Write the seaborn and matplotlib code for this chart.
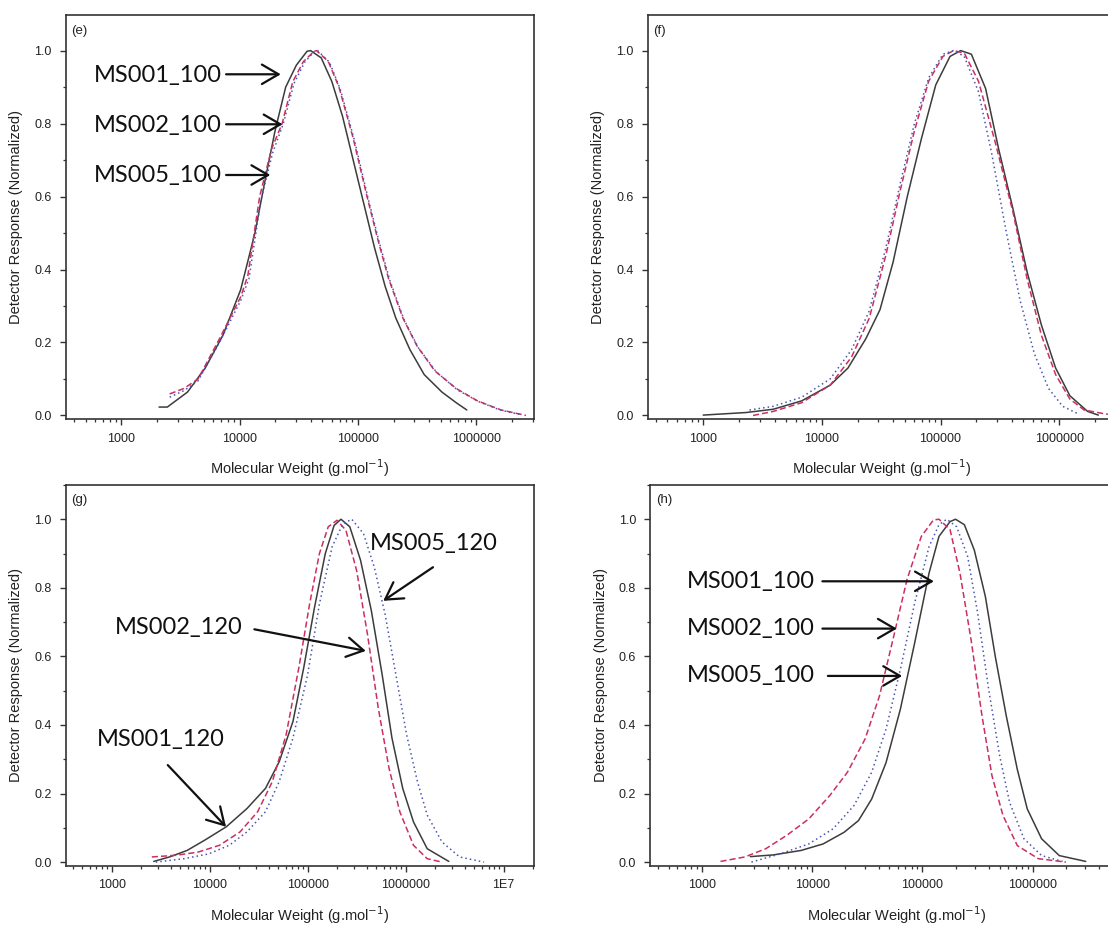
import numpy as np
import pandas as pd
import seaborn as sns
import matplotlib.pyplot as plt
from matplotlib.ticker import LogLocator, MultipleLocator, NullFormatter

#%% data (log10 of molecular weight, normalised response)
samples = ["MS001", "MS002", "MS005"]

e_logm = {
    "MS001": [3.32, 3.39, 3.56, 3.71, 3.86, 4.01, 4.13, 4.21, 4.30, 4.39, 4.48, 4.57, 4.60,
              4.69, 4.78, 4.87, 4.96, 5.05, 5.14, 5.23, 5.32, 5.44, 5.56, 5.71, 5.83, 5.92],
    "MS002": [3.41, 3.53, 3.65, 3.83, 4.01, 4.07, 4.17, 4.27, 4.36, 4.45, 4.54, 4.63, 4.65,
              4.75, 4.84, 4.96, 5.08, 5.17, 5.26, 5.38, 5.50, 5.65, 5.83, 6.01, 6.21, 6.42],
    "MS005": [3.41, 3.53, 3.65, 3.83, 4.01, 4.08, 4.18, 4.28, 4.37, 4.46, 4.55, 4.63, 4.66,
              4.76, 4.85, 4.97, 5.09, 5.18, 5.27, 5.39, 5.51, 5.66, 5.84, 6.02, 6.20, 6.38],
}
e_resp = {
    "MS001": [0.023, 0.023, 0.064, 0.13, 0.22, 0.345, 0.50, 0.635, 0.78, 0.90, 0.96, 0.998, 1.0,
              0.98, 0.915, 0.82, 0.70, 0.58, 0.46, 0.354, 0.267, 0.18, 0.112, 0.064, 0.035, 0.015],
    "MS002": [0.059, 0.074, 0.10, 0.21, 0.325, 0.383, 0.60, 0.73, 0.80, 0.915, 0.97, 0.998, 1.0,
              0.97, 0.90, 0.76, 0.596, 0.48, 0.374, 0.267, 0.19, 0.122, 0.074, 0.04, 0.015, 0.0],
    "MS005": [0.05, 0.068, 0.095, 0.20, 0.315, 0.375, 0.59, 0.72, 0.80, 0.91, 0.968, 0.997, 1.0,
              0.968, 0.895, 0.755, 0.59, 0.475, 0.37, 0.262, 0.186, 0.12, 0.07, 0.038, 0.015, 0.002],
}

f_logm = {
    "MS001": [3.0, 3.36, 3.59, 3.83, 4.07, 4.22, 4.37, 4.49, 4.60, 4.72, 4.84, 4.96, 5.08, 5.17,
              5.26, 5.38, 5.49, 5.61, 5.73, 5.85, 5.97, 6.09, 6.24, 6.33],
    "MS002": [3.42, 3.59, 3.83, 4.07, 4.25, 4.40, 4.54, 4.66, 4.78, 4.90, 5.02, 5.11, 5.20,
              5.32, 5.46, 5.61, 5.73, 5.85, 5.97, 6.09, 6.21, 6.39, 6.55],
    "MS005": [3.39, 3.59, 3.83, 4.07, 4.25, 4.40, 4.54, 4.66, 4.78, 4.90, 5.02, 5.11, 5.20,
              5.32, 5.43, 5.55, 5.67, 5.79, 5.91, 6.03, 6.15],
}
f_resp = {
    "MS001": [0.001, 0.008, 0.017, 0.04, 0.083, 0.13, 0.21, 0.29, 0.42, 0.60, 0.76, 0.906, 0.984, 1.0,
              0.99, 0.896, 0.73, 0.567, 0.393, 0.248, 0.13, 0.054, 0.011, 0.001],
    "MS002": [0.0, 0.011, 0.035, 0.083, 0.16, 0.267, 0.44, 0.616, 0.78, 0.916, 0.984, 1.0, 0.993,
              0.916, 0.75, 0.558, 0.374, 0.22, 0.112, 0.045, 0.015, 0.004, 0.0],
    "MS005": [0.015, 0.025, 0.05, 0.10, 0.18, 0.287, 0.46, 0.635, 0.80, 0.925, 0.99, 1.0, 0.984,
              0.887, 0.72, 0.51, 0.316, 0.17, 0.074, 0.025, 0.006],
}

g_logm = {
    "MS001": [3.43, 3.59, 3.77, 3.95, 4.17, 4.38, 4.57, 4.71, 4.85, 4.96, 5.07, 5.18, 5.27, 5.34,
              5.43, 5.54, 5.65, 5.76, 5.86, 5.97, 6.08, 6.22, 6.44],
    "MS002": [3.41, 3.66, 3.88, 4.10, 4.31, 4.49, 4.64, 4.78, 4.91, 5.02, 5.12, 5.21, 5.30,
              5.39, 5.50, 5.61, 5.72, 5.83, 5.94, 6.08, 6.22, 6.37],
    "MS005": [3.45, 3.74, 3.99, 4.20, 4.38, 4.57, 4.71, 4.85, 5.0, 5.12, 5.25, 5.36, 5.45,
              5.57, 5.68, 5.79, 5.90, 6.01, 6.12, 6.22, 6.37, 6.55, 6.80],
}
g_resp = {
    "MS001": [0.002, 0.015, 0.034, 0.064, 0.103, 0.156, 0.215, 0.293, 0.41, 0.567, 0.743, 0.90, 0.982, 1.0,
              0.978, 0.88, 0.733, 0.547, 0.362, 0.215, 0.117, 0.039, 0.002],
    "MS002": [0.015, 0.02, 0.029, 0.049, 0.088, 0.147, 0.235, 0.371, 0.567, 0.753, 0.90, 0.978, 0.997,
              0.968, 0.85, 0.665, 0.45, 0.274, 0.147, 0.049, 0.01, 0.0],
    "MS005": [0.0, 0.01, 0.024, 0.049, 0.088, 0.147, 0.235, 0.362, 0.547, 0.753, 0.92, 0.987, 1.0,
              0.958, 0.86, 0.723, 0.547, 0.371, 0.235, 0.137, 0.059, 0.015, 0.0],
}

h_logm = {
    "MS001": [3.44, 3.65, 3.90, 4.10, 4.29, 4.42, 4.54, 4.67, 4.80, 4.93, 5.06, 5.15, 5.25, 5.30,
              5.38, 5.47, 5.57, 5.66, 5.76, 5.86, 5.95, 6.08, 6.24, 6.48],
    "MS002": [3.17, 3.39, 3.58, 3.77, 3.97, 4.16, 4.32, 4.48, 4.61, 4.74, 4.86, 4.99, 5.10, 5.15,
              5.25, 5.34, 5.44, 5.54, 5.63, 5.73, 5.86, 6.05, 6.30],
    "MS005": [3.45, 3.71, 3.97, 4.19, 4.38, 4.54, 4.67, 4.80, 4.93, 5.06, 5.15, 5.22,
              5.31, 5.41, 5.50, 5.60, 5.70, 5.79, 5.92, 6.08, 6.27],
}
h_resp = {
    "MS001": [0.016, 0.021, 0.034, 0.053, 0.087, 0.121, 0.184, 0.29, 0.446, 0.64, 0.843, 0.95, 0.993, 1.0,
              0.984, 0.91, 0.775, 0.60, 0.426, 0.27, 0.155, 0.068, 0.019, 0.002],
    "MS002": [0.002, 0.015, 0.039, 0.078, 0.126, 0.194, 0.262, 0.359, 0.484, 0.659, 0.824, 0.95, 0.998, 1.0,
              0.97, 0.843, 0.65, 0.426, 0.252, 0.136, 0.048, 0.01, 0.0],
    "MS005": [0.0, 0.024, 0.053, 0.097, 0.165, 0.262, 0.388, 0.562, 0.756, 0.92, 0.984, 1.0,
              0.978, 0.891, 0.727, 0.504, 0.31, 0.174, 0.068, 0.019, 0.002],
}

#%% style
sns.set_style("ticks")
plt.rcParams["font.family"] = ["Liberation Sans", "DejaVu Sans"]
plt.rcParams["axes.edgecolor"] = "#333333"
plt.rcParams["axes.linewidth"] = 1.2

palette = {"MS001": "#3c3c3c", "MS002": "#cc2f5f", "MS005": "#4a55b0"}
dashes = {"MS001": "", "MS002": (4, 2), "MS005": (1, 2)}
ann_font = ["Lato", "DejaVu Sans"]


def make_df(logm, resp):
    rows = []
    for s in samples:
        for lm, r in zip(logm[s], resp[s]):
            rows.append({"sample": s, "mw": 10 ** lm, "resp": r})
    return pd.DataFrame(rows)


def draw(ax, logm, resp, tag, xmax, ylims, xticks, xlabels):
    df = make_df(logm, resp)
    sns.lineplot(data=df, x="mw", y="resp", hue="sample", style="sample",
                 palette=palette, dashes=dashes, linewidth=1.1,
                 estimator=None, legend=False, ax=ax)
    ax.set_xscale("log")
    ax.set_xlim(340, xmax)
    ax.set_ylim(*ylims)
    ax.set_xticks(xticks)
    ax.set_xticklabels(xlabels)
    ax.xaxis.set_minor_locator(LogLocator(base=10, subs=np.arange(2, 10)))
    ax.xaxis.set_minor_formatter(NullFormatter())
    ax.set_yticks([0.0, 0.2, 0.4, 0.6, 0.8, 1.0])
    ax.set_yticklabels(["0.0", "0.2", "0.4", "0.6", "0.8", "1.0"])
    ax.yaxis.set_minor_locator(MultipleLocator(0.1))
    ax.tick_params(which="major", direction="out", length=4, width=1, labelsize=9,
                   pad=6, colors="#333333", labelcolor="#222222")
    ax.tick_params(which="minor", direction="out", length=2.5, width=0.9, colors="#333333")
    ax.set_xlabel("Molecular Weight (g.mol$^{-1}$)", fontsize=10.5, labelpad=9, color="#222222")
    ax.set_ylabel("Detector Response (Normalized)", fontsize=10.5, labelpad=8, color="#222222")
    ax.text(0.012, 0.975, tag, transform=ax.transAxes, fontsize=9.5, va="top", ha="left",
            color="#222222")


def label(ax, text, tx, ty, tail, tip):
    ax.text(tx, ty, text, fontsize=17, family=ann_font, va="center", ha="left", color="#111111")
    ax.annotate("", xy=tip, xytext=tail,
                arrowprops=dict(arrowstyle="->,head_length=0.6,head_width=0.35",
                                mutation_scale=20, lw=1.6, color="#111111",
                                shrinkA=0, shrinkB=0))


fig = plt.figure(figsize=(11.08, 9.26), dpi=100)
ax_e = fig.add_axes([0.0593, 0.5478, 0.4223, 0.4362])
ax_f = fig.add_axes([0.5845, 0.5478, 0.4233, 0.4362])
ax_g = fig.add_axes([0.0593, 0.0653, 0.4223, 0.4110])
ax_h = fig.add_axes([0.5867, 0.0653, 0.4450, 0.4110])

t6 = [1e3, 1e4, 1e5, 1e6]
l6 = ["1000", "10000", "100000", "1000000"]
draw(ax_e, e_logm, e_resp, "(e)", 3.05e6, (-0.009, 1.098), t6, l6)
draw(ax_f, f_logm, f_resp, "(f)", 3.05e6, (-0.009, 1.098), t6, l6)
draw(ax_g, g_logm, g_resp, "(g)", 2.02e7, (-0.01, 1.1), t6 + [1e7], l6 + ["1E7"])
draw(ax_h, h_logm, h_resp, "(h)", 1e7, (-0.01, 1.1), t6, l6)

# annotations (e)
label(ax_e, "MS001_100", 585, 0.933, (7700, 0.935), (22300, 0.935))
label(ax_e, "MS002_100", 585, 0.796, (7700, 0.798), (23100, 0.798))
label(ax_e, "MS005_100", 585, 0.657, (7700, 0.659), (18200, 0.659))

# annotations (g)
label(ax_g, "MS005_120", 427000, 0.929, (1.9e6, 0.86), (5.9e5, 0.762))
label(ax_g, "MS002_120", 1077, 0.684, (28600, 0.679), (392000, 0.616))
label(ax_g, "MS001_120", 711, 0.357, (3740, 0.283), (14700, 0.103))

# annotations (h)
label(ax_h, "MS001_100", 728, 0.819, (12400, 0.819), (127000, 0.819))
label(ax_h, "MS002_100", 728, 0.681, (12400, 0.681), (58600, 0.681))
label(ax_h, "MS005_100", 728, 0.543, (13900, 0.543), (65500, 0.543))

fig.savefig("out.png", dpi=100)
